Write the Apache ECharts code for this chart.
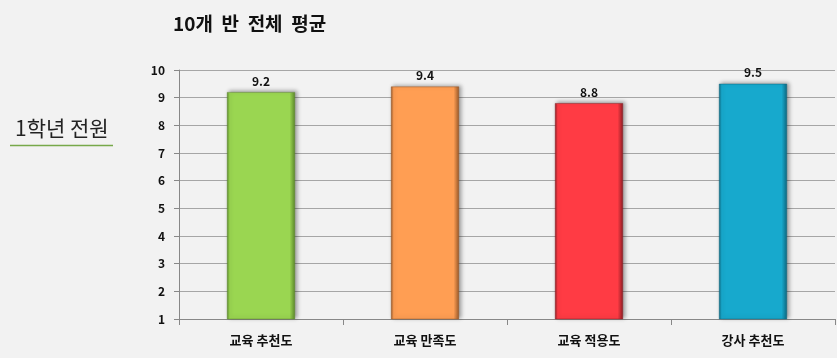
<!DOCTYPE html>
<html><head><meta charset="utf-8">
<script src="https://cdn.jsdelivr.net/npm/echarts@6/dist/echarts.min.js"></script>
<style>html,body{margin:0;padding:0;background:#f2f2f2;}#c{width:837px;height:358px;}</style>
</head><body><div id="c"></div>
<script>
const categories = ['교육 추천도', '교육 만족도', '교육 적용도', '강사 추천도'];
const values = [9.2, 9.4, 8.8, 9.5];
const barColors = ['#9ad651', '#ff9e53', '#ff3b44', '#17a9cd'];
const edgeColors = ['#5e8a2c', '#9a5a2a', '#8e1e25', '#0e6a82'];
const yTicks = [1, 2, 3, 4, 5, 6, 7, 8, 9, 10];

const chart = echarts.init(document.getElementById('c'));
const font = "'Noto Sans CJK KR', sans-serif";
chart.setOption({
  backgroundColor: '#f2f2f2',
  animation: false,
  title: {
    text: '10개  반  전체  평균', left: 168, top: 9,
    textStyle: { fontFamily: font, fontSize: 19, fontWeight: 'bold', color: '#111' }
  },
  graphic: [
    { type: 'text', left: 15, top: 118, style: { text: '1학년 전원', font: "21px 'Noto Sans CJK KR', sans-serif", fill: '#222' } },
    { type: 'line', shape: { x1: 10, y1: 145.5, x2: 113, y2: 145.5 }, style: { stroke: '#77a94a', lineWidth: 1.5 } }
  ],
  grid: { left: 179, right: 2, top: 70, bottom: 39 },
  xAxis: {
    type: 'category', data: categories,
    axisLine: { lineStyle: { color: '#888', width: 1 } },
    axisTick: { show: true, length: 6, lineStyle: { color: '#888' } },
    axisLabel: { fontFamily: font, fontSize: 13, fontWeight: 'bold', color: '#111', margin: 15 }
  },
  yAxis: {
    type: 'value', min: 1, max: 10, interval: 1,
    axisLine: { show: true, lineStyle: { color: '#888' } },
    axisTick: { show: true, length: 5, inside: false, lineStyle: { color: '#888' } },
    splitLine: { lineStyle: { color: '#a6a6a6', width: 1 } },
    axisLabel: {
      fontFamily: font, fontSize: 12, fontWeight: 'bold', color: '#111', margin: 14,
      formatter: v => yTicks.includes(v) ? String(v) : ''
    }
  },
  series: [{
    type: 'bar', barWidth: 68,
    data: values.map((v, i) => ({
      value: v,
      itemStyle: {
        color: {
          type: 'linear', x: 0, y: 0, x2: 1, y2: 0,
          colorStops: [
            { offset: 0, color: edgeColors[i] },
            { offset: 0.04, color: barColors[i] },
            { offset: 0.92, color: barColors[i] },
            { offset: 1, color: edgeColors[i] }
          ]
        },
        borderColor: edgeColors[i], borderWidth: 0.5,
        shadowColor: 'rgba(0,0,0,0.35)', shadowBlur: 4, shadowOffsetX: 2, shadowOffsetY: -1
      }
    })),
    label: {
      show: true, position: 'top', distance: 5,
      fontFamily: font, fontSize: 12, fontWeight: 'bold', color: '#111',
      formatter: p => p.value.toFixed(1)
    }
  }]
});
</script></body></html>
